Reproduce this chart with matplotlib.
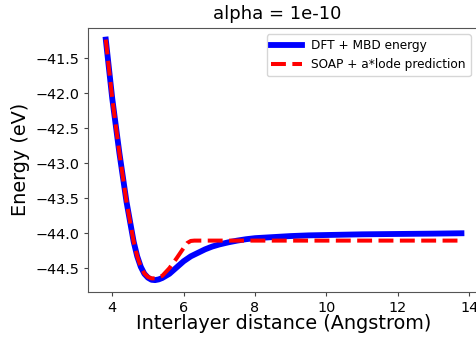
import matplotlib
matplotlib.use("Agg")
import matplotlib.pyplot as plt

# values
dist_dft = [3.82, 4.0, 4.2, 4.4, 4.6, 4.7, 4.8, 4.9, 5.0, 5.1, 5.2, 5.3, 5.4,
            5.6, 5.8, 6.0, 6.2, 6.4, 6.6, 6.8, 7.0, 7.25, 7.5, 7.75, 8.0, 8.5,
            9.0, 9.5, 10.0, 11.0, 12.0, 13.0, 13.78]
energy_dft = [-41.23, -42.07, -42.85, -43.55, -44.12, -44.33, -44.48, -44.58,
              -44.635, -44.665, -44.67, -44.66, -44.64, -44.58, -44.49,
              -44.40, -44.33, -44.28, -44.23, -44.19, -44.16, -44.13, -44.105,
              -44.085, -44.07, -44.055, -44.04, -44.03, -44.025, -44.015,
              -44.01, -44.005, -44.0]

dist_pred = [3.82, 4.0, 4.2, 4.4, 4.6, 4.7, 4.8, 4.9, 5.0, 5.1, 5.2, 5.4, 5.6,
             5.8, 6.0, 6.1, 6.2, 6.3, 7.0, 8.0, 9.0, 10.0, 11.0, 12.0, 13.0,
             13.78]
energy_pred = [-41.23, -42.07, -42.85, -43.55, -44.12, -44.33, -44.48, -44.575,
               -44.625, -44.645, -44.645, -44.61, -44.50, -44.36, -44.21,
               -44.14, -44.11, -44.105, -44.105, -44.105, -44.105, -44.105,
               -44.105, -44.105, -44.105, -44.105]

xticks = [4, 6, 8, 10, 12, 14]
yticks = [-41.5, -42.0, -42.5, -43.0, -43.5, -44.0, -44.5]

fig = plt.figure(figsize=(4.77, 3.38), dpi=100)
ax = fig.add_axes([88.3 / 477, 46 / 338, 391 / 477, 264.3 / 338])

ax.plot(dist_dft, energy_dft, color="blue", lw=4.2, label="DFT + MBD energy")
ax.plot(dist_pred, energy_pred, color="red", lw=2.9, ls="--",
        label="SOAP + a*lode prediction")

ax.set_xlim(3.33, 14.28)
ax.set_ylim(-44.84, -41.06)
ax.set_xticks(xticks)
ax.set_yticks(yticks)
ax.tick_params(labelsize=10.4, color="#444444", length=3)
for s in ax.spines.values():
    s.set_color("#555555")

ax.set_xlabel("Interlayer distance (Angstrom)", fontsize=13.9, labelpad=-1)
ax.set_ylabel("Energy (eV)", fontsize=13.9)
ax.set_title("alpha = 1e-10", fontsize=13, x=0.484)

ax.legend(loc="upper right", bbox_to_anchor=(470.7 / 477, 1 - 34.3 / 338),
          bbox_transform=fig.transFigure, borderaxespad=0, fontsize=8.7,
          handlelength=2.5)

fig.savefig("out.png", dpi=100)
